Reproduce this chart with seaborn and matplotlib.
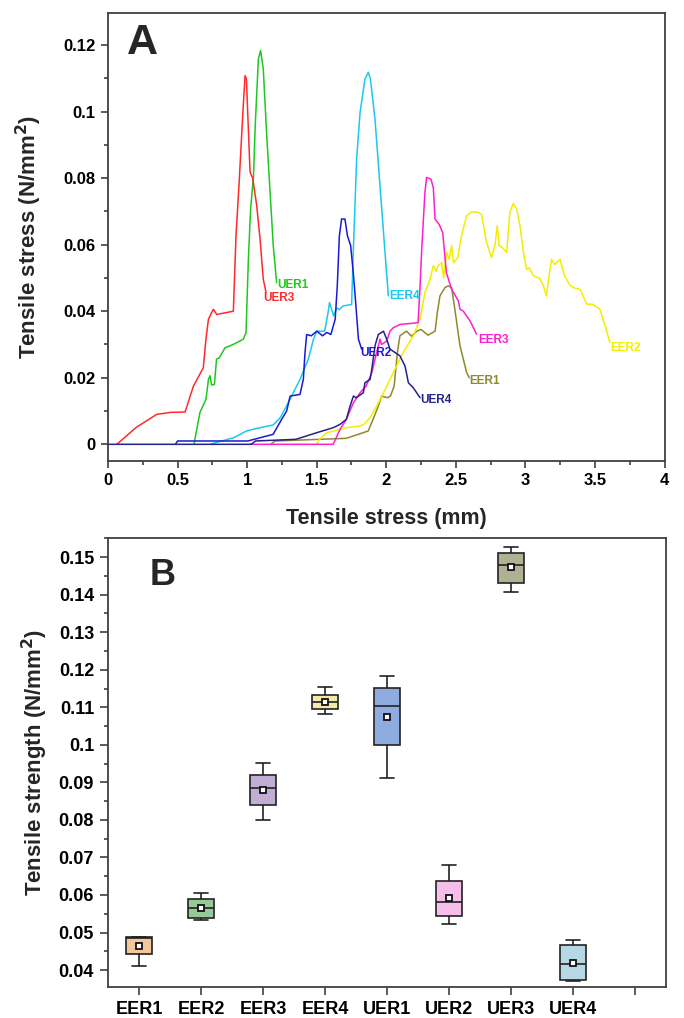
import numpy as np
import pandas as pd
import matplotlib
matplotlib.use("Agg")
import matplotlib.pyplot as plt
from matplotlib.ticker import MultipleLocator
import seaborn as sns

# ---------------- Panel A data (displacement mm, stress N/mm2) ----------------
EER1_x = [1.17, 1.20, 1.713, 1.835, 1.87, 1.905, 1.943, 1.966, 2.01, 2.03, 2.057, 2.08, 2.098, 2.146, 2.18, 2.22,
          2.25, 2.30, 2.351, 2.367, 2.386, 2.422, 2.446, 2.47, 2.493, 2.530, 2.554, 2.578, 2.597]
EER1_y = [0.0, 0.001, 0.0018, 0.0035, 0.004, 0.0075, 0.0115, 0.0145, 0.014, 0.0145, 0.0175, 0.0276, 0.0326, 0.034,
          0.0325, 0.034, 0.0345, 0.0328, 0.034, 0.0396, 0.0446, 0.0471, 0.0476, 0.047, 0.0406, 0.0296, 0.0256, 0.0215, 0.020]

EER2_x = [1.50, 1.521, 1.572, 1.62, 1.713, 1.812, 1.84, 1.884, 1.931, 1.98, 2.027, 2.05, 2.122, 2.194, 2.243, 2.278,
          2.315, 2.338, 2.36, 2.371, 2.398, 2.412, 2.434, 2.452, 2.470, 2.483, 2.513, 2.541, 2.578, 2.614, 2.662,
          2.685, 2.721, 2.756, 2.781, 2.798, 2.812, 2.837, 2.865, 2.889, 2.913, 2.938, 2.961, 2.986, 3.009, 3.029,
          3.058, 3.10, 3.13, 3.151, 3.177, 3.189, 3.21, 3.249, 3.282, 3.323, 3.353, 3.393, 3.441, 3.484, 3.535,
          3.573, 3.608]
EER2_y = [0.0, 0.0015, 0.0035, 0.004, 0.005, 0.0055, 0.006, 0.008, 0.0115, 0.0155, 0.0195, 0.0215, 0.0276, 0.0326,
          0.0376, 0.0456, 0.0496, 0.0536, 0.052, 0.0536, 0.0546, 0.050, 0.0577, 0.0556, 0.0597, 0.0546, 0.056,
          0.0627, 0.0687, 0.0699, 0.0697, 0.069, 0.0606, 0.0561, 0.0597, 0.0657, 0.0597, 0.059, 0.0577, 0.0697,
          0.0724, 0.0706, 0.0657, 0.0577, 0.0526, 0.053, 0.0506, 0.050, 0.0476, 0.0446, 0.0526, 0.0556, 0.054,
          0.0556, 0.0506, 0.0476, 0.047, 0.0466, 0.0421, 0.0421, 0.0406, 0.0356, 0.0306]

EER3_x = [1.021, 1.619, 1.668, 1.713, 1.764, 1.812, 1.855, 1.896, 1.931, 1.955, 1.966, 2.003, 2.027, 2.05, 2.098,
          2.194, 2.229, 2.243, 2.255, 2.278, 2.290, 2.321, 2.338, 2.351, 2.381, 2.406, 2.432, 2.470, 2.518, 2.530,
          2.554, 2.602, 2.649]
EER3_y = [0.0, 0.0, 0.0045, 0.0075, 0.0125, 0.0155, 0.0175, 0.0215, 0.0276, 0.0316, 0.030, 0.031, 0.034, 0.035,
          0.036, 0.0364, 0.0366, 0.0476, 0.0586, 0.0757, 0.0802, 0.0797, 0.0772, 0.0677, 0.066, 0.0636, 0.0516,
          0.0466, 0.0431, 0.0406, 0.040, 0.0371, 0.0331]

EER4_x = [0.733, 0.904, 0.995, 1.093, 1.187, 1.238, 1.283, 1.380, 1.440, 1.477, 1.501, 1.557, 1.582, 1.592, 1.622,
          1.643, 1.663, 1.691, 1.751, 1.763, 1.787, 1.812, 1.847, 1.871, 1.886, 1.919, 1.955, 1.991, 2.015]
EER4_y = [0.0, 0.002, 0.004, 0.005, 0.0058, 0.008, 0.0115, 0.0195, 0.0256, 0.0316, 0.034, 0.034, 0.0396, 0.0426,
          0.0386, 0.041, 0.0405, 0.0416, 0.042, 0.0577, 0.0857, 0.0998, 0.1098, 0.1118, 0.1098, 0.0977, 0.0777,
          0.0577, 0.0446]

UER1_x = [0.618, 0.661, 0.704, 0.722, 0.733, 0.745, 0.765, 0.780, 0.80, 0.841, 0.90, 0.973, 0.992, 1.009, 1.025,
          1.046, 1.058, 1.081, 1.097, 1.116, 1.141, 1.165, 1.188, 1.212]
UER1_y = [0.0, 0.0096, 0.0135, 0.0195, 0.0206, 0.0178, 0.018, 0.0256, 0.026, 0.029, 0.030, 0.0316, 0.0336, 0.0556,
          0.0707, 0.0807, 0.0957, 0.1158, 0.1183, 0.1128, 0.0927, 0.0757, 0.0596, 0.0486]

UER2_x = [0.485, 0.50, 1.005, 1.141, 1.187, 1.248, 1.284, 1.309, 1.380, 1.404, 1.416, 1.428, 1.461, 1.501, 1.542,
          1.572, 1.602, 1.633, 1.648, 1.663, 1.679, 1.703, 1.721, 1.744, 1.763, 1.782, 1.800, 1.823]
UER2_y = [0.0, 0.001, 0.001, 0.0025, 0.003, 0.0075, 0.010, 0.0145, 0.015, 0.0195, 0.0276, 0.033, 0.0326, 0.034,
          0.0326, 0.0336, 0.033, 0.0376, 0.0476, 0.0627, 0.0677, 0.0677, 0.0627, 0.0597, 0.0516, 0.0416, 0.0316,
          0.0286]

UER3_x = [0.064, 0.20, 0.35, 0.45, 0.554, 0.614, 0.685, 0.704, 0.722, 0.757, 0.782, 0.84, 0.901, 0.920, 0.944,
          0.968, 0.985, 0.995, 1.005, 1.021, 1.04, 1.069, 1.093, 1.116, 1.136]
UER3_y = [0.0, 0.005, 0.009, 0.0096, 0.0097, 0.0175, 0.023, 0.0316, 0.0376, 0.0406, 0.039, 0.0395, 0.040, 0.0627,
          0.0797, 0.0987, 0.1108, 0.1098, 0.0987, 0.0818, 0.080, 0.0717, 0.0617, 0.0496, 0.0456]

UER4_x = [0.0, 1.03, 1.06, 1.35, 1.501, 1.619, 1.668, 1.713, 1.740, 1.764, 1.784, 1.835, 1.847, 1.884, 1.896,
          1.919, 1.943, 1.980, 2.003, 2.027, 2.098, 2.135, 2.159, 2.194, 2.243]
UER4_y = [0.0, 0.0, 0.001, 0.0015, 0.0035, 0.005, 0.006, 0.0075, 0.0115, 0.0145, 0.014, 0.0155, 0.0185, 0.0195,
          0.0226, 0.0296, 0.033, 0.034, 0.0316, 0.0286, 0.0266, 0.0235, 0.0185, 0.017, 0.014]

curve_names = ["EER1", "EER2", "EER3", "EER4", "UER1", "UER2", "UER3", "UER4"]
curve_colors = ["#8E8A2A", "#F2EE00", "#FF1ED2", "#1CC8EE", "#1EC81E", "#1A1AD6", "#FF2A2A", "#23238E"]
label_pos_x = [2.60, 3.61, 2.66, 2.02, 1.215, 1.81, 1.114, 2.243]
label_pos_y = [0.0191, 0.0290, 0.0314, 0.0446, 0.0480, 0.0273, 0.0441, 0.0134]

xticks_A = [0, 0.5, 1, 1.5, 2, 2.5, 3, 3.5, 4]
xticklabels_A = ["0", "0.5", "1", "1.5", "2", "2.5", "3", "3.5", "4"]
yticks_A = [0, 0.02, 0.04, 0.06, 0.08, 0.10, 0.12]
yticklabels_A = ["0", "0.02", "0.04", "0.06", "0.08", "0.1", "0.12"]

# ---------------- Panel B data (box summaries) ----------------
groups = ["EER1", "EER2", "EER3", "EER4", "UER1", "UER2", "UER3", "UER4"]
whisker_low = [0.0412, 0.0533, 0.0801, 0.1082, 0.0912, 0.0524, 0.1407, 0.0371]
q1 = [0.0443, 0.0540, 0.0839, 0.1095, 0.1000, 0.0544, 0.1432, 0.0374]
median = [0.0486, 0.0566, 0.0885, 0.1115, 0.1103, 0.0582, 0.1479, 0.0417]
q3 = [0.0487, 0.0589, 0.0919, 0.1134, 0.1152, 0.0638, 0.1511, 0.0468]
whisker_high = [0.0489, 0.0605, 0.0951, 0.1154, 0.1183, 0.0680, 0.1527, 0.0480]
means = [0.0464, 0.0566, 0.0880, 0.1115, 0.1075, 0.0592, 0.1474, 0.0420]
box_colors = ["#FFC78E", "#8FD08F", "#C0A8DA", "#FFF19C", "#80A8EE", "#FFB5F0", "#B5B590", "#ADDCEC"]
yticks_B = [0.04, 0.05, 0.06, 0.07, 0.08, 0.09, 0.10, 0.11, 0.12, 0.13, 0.14, 0.15]
yticklabels_B = ["0.04", "0.05", "0.06", "0.07", "0.08", "0.09", "0.1", "0.11", "0.12", "0.13", "0.14", "0.15"]

# ---------------- Style ----------------
sns.set_style("ticks")
plt.rcParams["font.family"] = ["Liberation Sans", "DejaVu Sans"]
plt.rcParams["font.weight"] = "bold"
plt.rcParams["axes.labelweight"] = "bold"
plt.rcParams["axes.edgecolor"] = "#404040"
plt.rcParams["axes.linewidth"] = 1.3
plt.rcParams["xtick.color"] = "#404040"
plt.rcParams["ytick.color"] = "#404040"
plt.rcParams["xtick.labelcolor"] = "black"
plt.rcParams["ytick.labelcolor"] = "black"
plt.rcParams["mathtext.default"] = "bf"

fig = plt.figure(figsize=(6.84, 10.18), dpi=100)
axA = fig.add_axes([0.1579, 0.5472, 0.8136, 0.4400])
axB = fig.add_axes([0.1579, 0.0305, 0.8158, 0.4410])

# ---------------- Panel A ----------------
series = {
    "EER1": (EER1_x, EER1_y), "EER2": (EER2_x, EER2_y), "EER3": (EER3_x, EER3_y), "EER4": (EER4_x, EER4_y),
    "UER1": (UER1_x, UER1_y), "UER2": (UER2_x, UER2_y), "UER3": (UER3_x, UER3_y), "UER4": (UER4_x, UER4_y),
}
for name, col in zip(curve_names, curve_colors):
    xs, ys = series[name]
    sns.lineplot(x=xs, y=ys, color=col, sort=False, estimator=None, linewidth=1.1, ax=axA)
for name, col, lx, ly in zip(curve_names, curve_colors, label_pos_x, label_pos_y):
    axA.text(lx, ly, name, color=col, fontsize=8.5, fontweight="bold", ha="left", va="center")

axA.set_xlim(0, 4)
axA.set_ylim(-0.005, 0.1296)
axA.set_xticks(xticks_A)
axA.set_xticklabels(xticklabels_A)
axA.set_yticks(yticks_A)
axA.set_yticklabels(yticklabels_A)
axA.xaxis.set_minor_locator(MultipleLocator(0.25))
axA.yaxis.set_minor_locator(MultipleLocator(0.01))
axA.tick_params(axis="both", which="major", direction="out", length=5, width=1.2, labelsize=12, pad=4)
axA.tick_params(axis="both", which="minor", direction="out", length=3, width=1.2)
axA.tick_params(top=False, right=False, which="both")
for lab in axA.get_xticklabels() + axA.get_yticklabels():
    lab.set_fontweight("bold")
axA.set_xlabel("Tensile stress (mm)", fontsize=15.5, fontweight="bold", labelpad=14)
axA.set_ylabel("Tensile stress (N/mm$^{2}$)", fontsize=16, fontweight="bold", labelpad=14)
axA.text(0.034, 0.978, "A", transform=axA.transAxes, fontsize=31, fontweight="bold", ha="left", va="top")

# ---------------- Panel B ----------------
rows = []
for g, a, b, c, d, e in zip(groups, whisker_low, q1, median, q3, whisker_high):
    for v in (a, b, c, d, e):
        rows.append({"group": g, "value": v})
box_df = pd.DataFrame(rows)
sns.boxplot(data=box_df, x="group", y="value", hue="group", order=groups, hue_order=groups,
            palette=dict(zip(groups, box_colors)), whis=(0, 100), width=0.42, linecolor="#222222",
            linewidth=1.2, legend=False, ax=axB)
sns.pointplot(x=groups, y=means, order=groups, linestyle="none", marker="s", color="#111111",
              markerfacecolor="white", markersize=5, markeredgewidth=1.3, errorbar=None, ax=axB)
for ln in axB.lines[-1:]:
    ln.set_zorder(6)

axB.set_xlim(-0.5, 8.5)
axB.set_ylim(0.0355, 0.1551)
axB.set_xticks(list(range(len(groups) + 1)))
axB.set_xticklabels(groups + [""])
axB.set_yticks(yticks_B)
axB.set_yticklabels(yticklabels_B)
axB.yaxis.set_minor_locator(MultipleLocator(0.005))
axB.tick_params(axis="both", which="major", direction="out", length=6, width=1.2, labelsize=13, pad=4)
axB.tick_params(axis="y", which="minor", direction="out", length=3, width=1.2)
axB.tick_params(top=False, right=False, which="both")
for lab in axB.get_xticklabels() + axB.get_yticklabels():
    lab.set_fontweight("bold")
axB.set_xlabel("")
axB.set_ylabel("Tensile strength (N/mm$^{2}$)", fontsize=16, fontweight="bold", labelpad=6)
axB.text(0.075, 0.955, "B", transform=axB.transAxes, fontsize=26, fontweight="bold", ha="left", va="top")

for ax in (axA, axB):
    for s in ax.spines.values():
        s.set_visible(True)
        s.set_color("#404040")
        s.set_linewidth(1.3)

fig.savefig("out.png", dpi=100)
